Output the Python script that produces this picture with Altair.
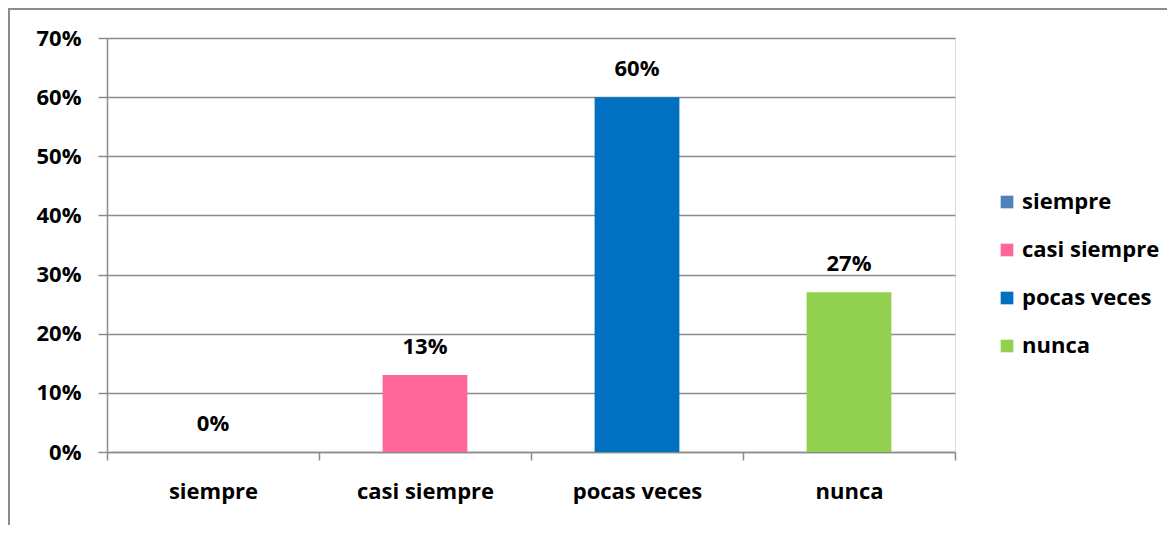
import altair as alt
import pandas as pd

categories = ["siempre", "casi siempre", "pocas veces", "nunca"]
values = [0.0, 0.13, 0.60, 0.27]
labels = ["0%", "13%", "60%", "27%"]
colors = ["#4F81BD", "#FF6699", "#0070C0", "#92D050"]

df = pd.DataFrame({"cat": categories, "val": values, "lab": labels})

FONT = "Open Sans"
FS = 22
GRID = "#8c8c8c"

x_enc = alt.X("cat:N", sort=categories, title=None,
              scale=alt.Scale(paddingInner=0, paddingOuter=0),
              axis=alt.Axis(labelAngle=0, tickBand="extent", tickSize=8,
                            labelPadding=21, labelFont=FONT, labelFontSize=FS,
                            labelFontWeight="bold", labelColor="#000000",
                            domainColor=GRID, tickColor=GRID, domainWidth=1.5,
                            tickWidth=1.5, grid=False))
y_enc = alt.Y("val:Q", title=None,
              scale=alt.Scale(domain=[0, 0.7], nice=False),
              axis=alt.Axis(format=".0%", values=[0, 0.1, 0.2, 0.3, 0.4, 0.5, 0.6, 0.7],
                            tickSize=9, labelPadding=17, labelFont=FONT,
                            labelFontSize=FS, labelFontWeight="bold",
                            labelColor="#000000", domainColor=GRID, tickColor=GRID,
                            domainWidth=1.5, tickWidth=1.5, grid=True,
                            gridColor=GRID, gridWidth=1.5))

frame = alt.Chart(df).mark_rect(fill=None, stroke="#8c8c8c", strokeWidth=2).encode(
    x=alt.value(-98), x2=alt.value(1200), y=alt.value(-29), y2=alt.value(700)
)

bars = alt.Chart(df).mark_bar(width={"band": 0.4}).encode(
    x=x_enc,
    y=y_enc,
    color=alt.Color("cat:N", sort=categories,
                    scale=alt.Scale(domain=categories, range=colors),
                    legend=alt.Legend(title=None, orient="none", legendX=889, legendY=153,
                                      symbolType="square", symbolSize=160,
                                      symbolStrokeWidth=0,
                                      labelFont=FONT, labelFontSize=FS,
                                      labelFontWeight="bold", labelColor="#000000",
                                      rowPadding=26, labelOffset=4)),
)

text = alt.Chart(df).mark_text(dy=-16, baseline="bottom", font=FONT, fontSize=FS,
                               fontWeight="bold", color="#000000").encode(
    x=alt.X("cat:N", sort=categories),
    y="val:Q",
    text="lab:N",
)

chart = alt.layer(frame, bars, text).properties(
    width=848, height=414,
    padding={"left": 99, "top": 30, "right": 212, "bottom": 73},
    autosize=alt.AutoSizeParams(type="none"),
).configure_view(stroke=None).configure(background="white")

chart.save("out.html", embed_options={"renderer": "svg", "actions": False})
